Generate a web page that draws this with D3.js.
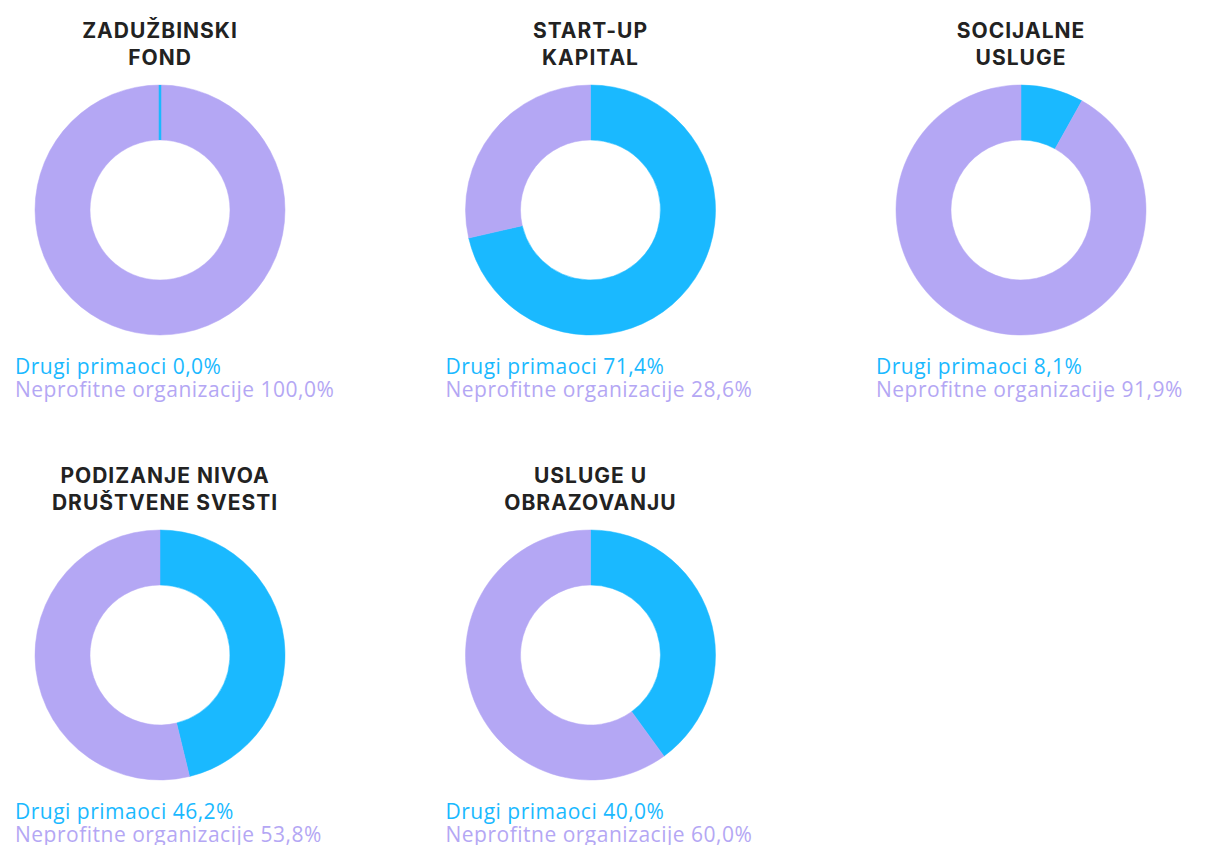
<!DOCTYPE html>
<html>
<head>
<meta charset="utf-8">
<script src="https://cdn.jsdelivr.net/npm/d3@7"></script>
<style>
  body { margin: 0; background: #fff; }
  svg { display: block; }
</style>
</head>
<body>
<div id="chart"></div>
<script>
const width = 1211
const height = 845

// data
const titles = [
  ["ZADUŽBINSKI", "FOND"],
  ["START-UP", "KAPITAL"],
  ["SOCIJALNE", "USLUGE"],
  ["PODIZANJE NIVOA", "DRUŠTVENE SVESTI"],
  ["USLUGE U", "OBRAZOVANJU"]
]
const seriesNames = ["Drugi primaoci", "Neprofitne organizacije"]
const drugi = [0.0, 71.4, 8.1, 46.2, 40.0]
const neprofitne = [100.0, 28.6, 91.9, 53.8, 60.0]
const colors = ["#1ab9ff", "#b4a7f4"]

const svg = d3.select("#chart")
  .append("svg")
  .attr("width", width)
  .attr("height", height)

const colX = d3.scalePoint().domain([0, 1, 2]).range([160, 1021])
const rowY = d3.scalePoint().domain([0, 1]).range([210, 655])

const inner = 70, outer = 125
const pie = d3.pie().sort(null).value(d => d)
const arc = d3.arc().innerRadius(inner).outerRadius(outer)

const fmt = v => v.toFixed(1).replace(".", ",") + "%"

titles.forEach((t, i) => {
  const cx = colX(i % 3)
  const cy = rowY(Math.floor(i / 3))
  const g = svg.append("g").attr("transform", `translate(${cx},${cy})`)

  const vals = [drugi[i], neprofitne[i]]
  const slices = pie(vals)

  g.selectAll("path")
    .data(slices)
    .join("path")
      .attr("d", arc)
      .attr("fill", (d, j) => colors[j])
      .attr("stroke", (d, j) => colors[j])
      .attr("stroke-width", 0.5)

  // zero slices still show as a thin radial line
  g.selectAll("line.zero")
    .data(slices.map((d, j) => ({...d, j})).filter(d => d.value === 0))
    .join("line")
      .attr("class", "zero")
      .attr("x1", d => inner * Math.sin(d.startAngle))
      .attr("y1", d => -inner * Math.cos(d.startAngle))
      .attr("x2", d => outer * Math.sin(d.startAngle))
      .attr("y2", d => -outer * Math.cos(d.startAngle))
      .attr("stroke", d => colors[d.j])
      .attr("stroke-width", 2.5)

  g.selectAll("text.title")
    .data(t)
    .join("text")
      .attr("class", "title")
      .attr("text-anchor", "middle")
      .attr("x", i === 3 ? 5 : 0)
      .attr("y", (d, j) => -172 + j * 27)
      .attr("font-family", "Inter, 'Open Sans', sans-serif")
      .attr("font-weight", 700)
      .attr("font-size", "21px")
      .attr("letter-spacing", "1px")
      .attr("fill", "#222")
      .text(d => d)

  g.selectAll("text.legend")
    .data(vals)
    .join("text")
      .attr("class", "legend")
      .attr("x", -145)
      .attr("y", (d, j) => 164 + j * 23)
      .attr("font-family", "'Open Sans', sans-serif")
      .attr("font-size", "21px")
      .attr("letter-spacing", "0.5px")
      .attr("fill", (d, j) => colors[j])
      .text((d, j) => seriesNames[j] + " " + fmt(d))
})
</script>
</body>
</html>
